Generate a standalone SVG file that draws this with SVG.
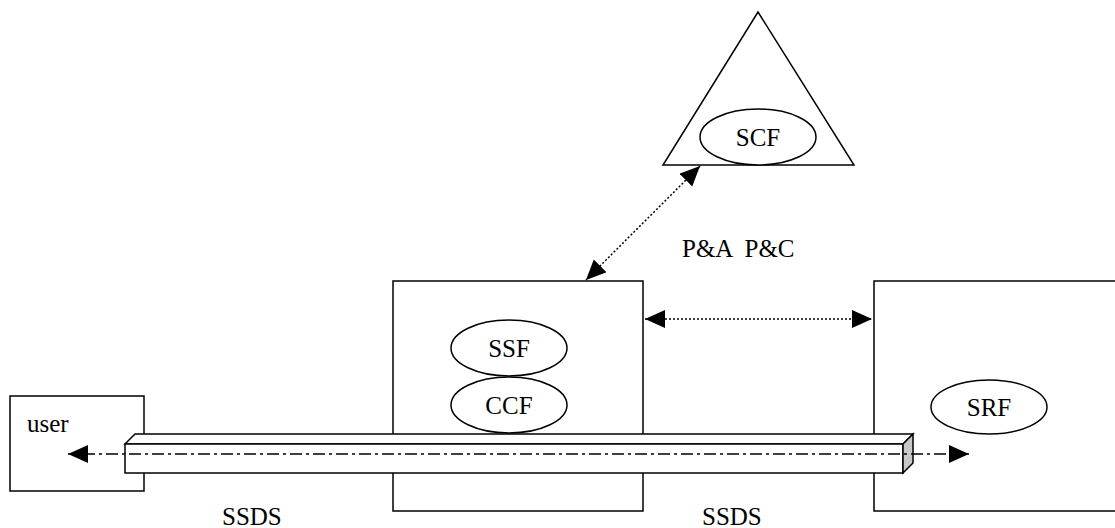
<svg xmlns="http://www.w3.org/2000/svg" width="1115" height="528" viewBox="0 0 1115 528">
<style>
.s{fill:#fff;stroke:#000;stroke-width:1.5}
.t{font-family:"Liberation Serif",serif;font-size:25px;fill:#000}
.m{text-anchor:middle}
.dot{fill:none;stroke:#000;stroke-width:1.5;stroke-dasharray:2 2}
.dd{fill:none;stroke:#000;stroke-width:1.5;stroke-dasharray:12 4 3 4}
</style>
<defs>
<marker id="ah" markerUnits="userSpaceOnUse" markerWidth="22" markerHeight="20" refX="20" refY="9" orient="auto-start-reverse">
<path d="M0,0 L20,9 L0,18 Z" fill="#000"/>
</marker>
</defs>
<rect width="1115" height="528" fill="#fff"/>
<g id="scf">
<polygon class="s" points="758,12 854,165 663,165"/>
<ellipse class="s" cx="758" cy="137" rx="58" ry="28"/>
<text class="t m" x="758" y="146">SCF</text>
</g>
<g id="ssf-ccf">
<rect class="s" x="393" y="281" width="250" height="230"/>
<ellipse class="s" cx="509" cy="348" rx="58" ry="28"/>
<text class="t m" x="509" y="357">SSF</text>
<ellipse class="s" cx="509" cy="405" rx="58" ry="28"/>
<text class="t m" x="509" y="414">CCF</text>
</g>
<g id="srf">
<rect class="s" x="874" y="281" width="260" height="230"/>
<ellipse class="s" cx="989" cy="407" rx="58" ry="27"/>
<text class="t m" x="989" y="416">SRF</text>
</g>
<g id="user">
<rect class="s" x="10" y="396" width="134" height="95"/>
<text class="t" x="27" y="432">user</text>
</g>
<g id="labels">
<text class="t" x="682" y="257" xml:space="preserve">P&amp;A  P&amp;C</text>
<text class="t" x="222" y="525">SSDS</text>
<text class="t" x="702" y="525">SSDS</text>
</g>
<g id="connectors">
<line class="dot" x1="700" y1="166" x2="586" y2="280" marker-start="url(#ah)" marker-end="url(#ah)"/>
<line class="dot" x1="645" y1="319" x2="872" y2="319" marker-start="url(#ah)" marker-end="url(#ah)"/>
</g>
<g id="pipe">
<polygon class="s" points="125,444 135,434 913,434 903,444"/>
<rect class="s" x="125" y="444" width="778" height="29"/>
<polygon points="903,444 913,434 913,463 903,473" fill="#c8c8c8" stroke="#000" stroke-width="1.5"/>
<line class="dd" x1="969" y1="454" x2="68" y2="454" marker-start="url(#ah)" marker-end="url(#ah)"/>
</g>
</svg>
